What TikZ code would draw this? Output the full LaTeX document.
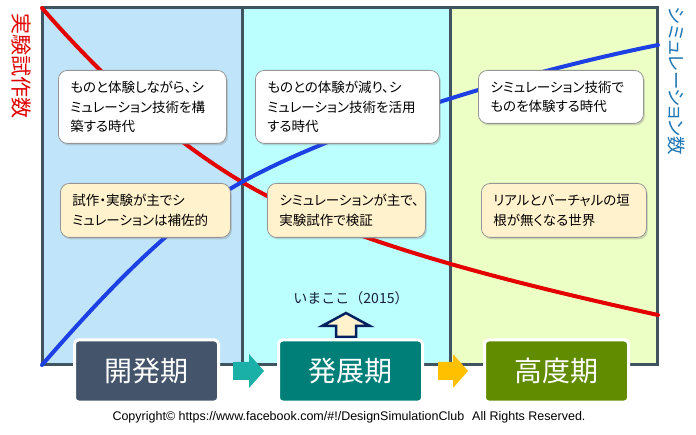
\documentclass[tikz,border=0pt]{standalone}
\usepackage{fontspec}
\newfontfamily\jp{Noto Sans CJK JP}[RawFeature=+palt]
\newfontfamily\jpfixed{Noto Sans CJK JP}
\newfontfamily\latinfont{Liberation Sans}
\usetikzlibrary{shadows}

\definecolor{framec}{RGB}{64,84,96}
\definecolor{colA}{RGB}{192,228,250}
\definecolor{colB}{RGB}{188,255,255}
\definecolor{colC}{RGB}{236,255,196}
\definecolor{redc}{RGB}{228,0,0}
\definecolor{bluec}{RGB}{28,64,228}
\definecolor{labred}{RGB}{224,0,0}
\definecolor{labblue}{RGB}{31,119,180}
\definecolor{cream}{RGB}{255,242,204}
\definecolor{boxedge}{RGB}{150,150,150}
\definecolor{phA}{RGB}{68,84,106}
\definecolor{phB}{RGB}{0,127,120}
\definecolor{phC}{RGB}{98,140,0}
\definecolor{arT}{RGB}{26,176,168}
\definecolor{arG}{RGB}{255,192,0}
\definecolor{navyc}{RGB}{0,32,96}
\definecolor{nowtext}{RGB}{20,30,60}

\begin{document}
\begin{tikzpicture}[x=1pt,y=-1pt,
  note/.style={draw=boxedge, line width=0.8pt, rounded corners=9pt, anchor=north west,
    inner xsep=12pt, inner ysep=0pt, align=left, text=black,
    font=\jp\fontsize{13.5}{19.5}\selectfont,
    drop shadow={shadow xshift=1.5pt, shadow yshift=-2pt, opacity=0.3}},
  whitenote/.style={note, fill=white},
  creamnote/.style={note, fill=cream},
  phase/.style={minimum width=144pt, minimum height=62pt, draw=white, line width=3pt,
    rounded corners=4pt, text=white, inner sep=0pt,
    font=\jpfixed\fontsize{28}{28}\selectfont},
  curve/.style={line width=4pt, line cap=round},
  framebar/.style={framec, line width=3pt},
  blockarrow/.style={line join=miter}
]
\fill[white] (0,0) rectangle (696,435);
\useasboundingbox (0,0) rectangle (696,435);

% columns
\fill[colA] (42,8) rectangle (242,365);
\fill[colB] (242,8) rectangle (450,365);
\fill[colC] (450,8) rectangle (657,365);
\draw[framebar] (242,8) -- (242,365);
\draw[framebar] (450,8) -- (450,365);
\draw[framebar] (42,8) rectangle (657,365);

% curves
\coordinate (cross) at (242,182);
\draw[curve, redc] (42,8) .. controls (109,85) and (175,142) .. (cross)
  .. controls (342,242) and (519,284.4) .. (658,315);
\draw[curve, bluec] (42,365) .. controls (109,288) and (175,219) .. (cross)
  .. controls (342,127) and (519,72.8) .. (658,45);

% axis labels
\node[rotate=-90, text=labred, font=\jpfixed\fontsize{21}{21}\selectfont] (labL) at (21,66) {実験試作数};
\node[rotate=-90, text=labblue, font=\jp\fontsize{18.5}{18.5}\selectfont] (labR) at (677,81) {シミュレーション数};

% upper notes
\node[whitenote, text width=144pt, minimum height=73pt] (nA) at (58,70)
  {ものと体験しながら、シ\\ミュレーション技術を構\\築する時代};
\node[whitenote, text width=160pt, minimum height=73pt] (nB) at (255,70)
  {ものとの体験が減り、シ\\ミュレーション技術を活用\\する時代};
\node[whitenote, text width=141pt, minimum height=53pt] (nC) at (478,70)
  {シミュレーション技術で\\ものを体験する時代};

% lower notes
\node[creamnote, text width=146pt, minimum height=54pt] (nD) at (60,183)
  {試作・実験が主でシ\\ミュレーションは補佐的};
\node[creamnote, text width=134pt, minimum height=54pt] (nE) at (267,183)
  {シミュレーションが主で、\\実験試作で検証};
\node[creamnote, text width=141pt, minimum height=54pt] (nF) at (481,183)
  {リアルとバーチャルの垣\\根が無くなる世界};

% now marker
\node[text=nowtext, font=\jpfixed\fontsize{14}{14}\selectfont] (now) at (351,298) {いまここ（2015）};
\draw[blockarrow, draw=navyc, fill=cream, line width=2.5pt]
  (346,313) -- (370,326) -- (356,326) -- (356,337) -- (336,337) -- (336,326) -- (322,326) -- cycle;

% phase arrows
\fill[arT] (233,362) -- (249,362) -- (249,354) -- (264,371) -- (249,388) -- (249,380) -- (233,380) -- cycle;
\fill[arG] (438,362) -- (453,362) -- (453,354) -- (468,371) -- (453,388) -- (453,380) -- (438,380) -- cycle;

% phases
\node[phase, fill=phA] (p1) at (146.5,371) {開発期};
\node[phase, fill=phB] (p2) at (350.5,371) {発展期};
\node[phase, fill=phC] (p3) at (556.5,371) {高度期};

% copyright
\node[font=\latinfont\fontsize{12.5}{12.5}\selectfont, text=black] (copy) at (349,417)
  {Copyright© https://www.facebook.com/\#!/DesignSimulationClub\hspace{8pt}All Rights Reserved.};
\end{tikzpicture}
\end{document}
